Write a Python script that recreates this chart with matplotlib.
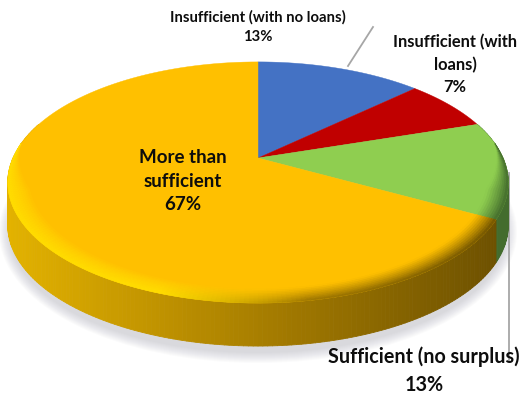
import numpy as np
import matplotlib
matplotlib.use('Agg')
import matplotlib.pyplot as plt
from matplotlib.collections import PolyCollection
from matplotlib.patches import Ellipse

# slices, clockwise from 12 o'clock
names = ['Insufficient (with no loans)', 'Insufficient (with\nloans)', 'Sufficient (no surplus)', 'More than\nsufficient']
values = [13, 7, 13, 67]
face_colors = ['#4472C4', '#C00000', '#8FCE50', '#FFC000']
pct_text = ['13%', '7%', '13%', '67%']

plt.rcParams['font.family'] = ['Lato', 'DejaVu Sans']

# pie geometry in pixels
apex_x, apex_y = 258, 158
scale_x, scale_y = 245, 115.6
tilt = 0.203
depth = 43


def project(angle, r=1.0):
    # angle clockwise from top, perspective so the apex sits above the ellipse centre
    x = r * np.sin(angle)
    y = r * np.cos(angle)
    w = 1 + tilt * y
    return apex_x + scale_x * x / w, apex_y - scale_y * y / w


def mix(c1, c2, t):
    return tuple(np.array(c1) * (1 - t) + np.array(c2) * t)


def rgb(h):
    return np.array(matplotlib.colors.to_rgb(h))


def side_color(i, px):
    t = np.clip((px - 9) / 498, 0, 1)
    if i == 2:
        return mix(rgb('#4F7F30'), rgb('#36592A'), 0.5)
    if i == 3:
        if t < 0.5:
            return mix(rgb('#E3B200'), rgb('#A87E00'), t * 2)
        return mix(rgb('#A87E00'), rgb('#6B4F00'), (t - 0.5) * 2)
    return mix(rgb(face_colors[i]), (0, 0, 0), 0.45)


fig = plt.figure(figsize=(5.21, 3.94), dpi=100)
ax = fig.add_axes([0, 0, 1, 1])
ax.set_xlim(0, 521)
ax.set_ylim(394, 0)
ax.axis('off')

# soft shadow under the disc
for grow in range(22, 0, -2):
    ax.add_patch(Ellipse((258, 232), 2 * 248 + grow, 2 * 120 + grow, fc='#8C8C9C', ec='none', alpha=0.03, zorder=1))

edges = np.cumsum([0] + values) / sum(values) * 2 * np.pi

# side wall
side_polys, side_cols = [], []
for i in range(len(values)):
    angs = np.linspace(edges[i], edges[i + 1], max(int(values[i] * 4), 4) + 1)
    for a0, a1 in zip(angs[:-1], angs[1:]):
        x0, y0 = project(a0)
        x1, y1 = project(a1)
        if np.cos(a0) > 0.3 and np.cos(a1) > 0.3:
            continue
        side_polys.append([(x0, y0), (x1, y1), (x1, y1 + depth), (x0, y0 + depth)])
        side_cols.append(side_color(i, (x0 + x1) / 2))
ax.add_collection(PolyCollection(side_polys, facecolors=side_cols, edgecolors=side_cols, linewidths=0.6, zorder=2))

# top face
for i in range(len(values)):
    angs = np.linspace(edges[i], edges[i + 1], 120)
    xs, ys = project(angs)
    ax.fill(np.r_[apex_x, xs], np.r_[apex_y, ys], color=face_colors[i], lw=0.3, zorder=3)

# bevel along the near edge
bevel_polys, bevel_cols = [], []
rings = np.linspace(0.92, 1.0, 10)
for i in range(len(values)):
    angs = np.linspace(edges[i], edges[i + 1], max(int(values[i] * 4), 4) + 1)
    for a0, a1 in zip(angs[:-1], angs[1:]):
        amid = (a0 + a1) / 2
        weight = np.clip(-np.cos(amid) * 2.5 + 0.3, 0, 1)
        if weight <= 0:
            continue
        px, _ = project(amid)
        sc = side_color(i, px)
        t_x = np.clip((px - 9) / 498, 0, 1)
        # left part of the yellow rim catches the light, right part falls into the dark
        bright = np.clip((0.6 - t_x) / 0.3, 0, 1) if i == 3 else 0
        for r0, r1 in zip(rings[:-1], rings[1:]):
            r0b = 1 - (1 - r0) * weight
            r1b = 1 - (1 - r1) * weight
            t = (r0 + r1 - 2 * rings[0]) / (2 * (1 - rings[0]))
            base = rgb(face_colors[i])
            dark = mix(base, sc, t ** 1.2)
            light = mix(base, rgb('#FFDD00'), t ** 0.7)
            col = mix(dark, light, bright)
            xa, ya = project(a0, r0b)
            xb, yb = project(a1, r0b)
            xc, yc = project(a1, r1b)
            xd, yd = project(a0, r1b)
            bevel_polys.append([(xa, ya), (xb, yb), (xc, yc), (xd, yd)])
            bevel_cols.append(col)
ax.add_collection(PolyCollection(bevel_polys, facecolors=bevel_cols, edgecolors=bevel_cols, linewidths=0.4, zorder=4))

# leader lines
ax.plot([373, 348], [27, 66], color='#A6A6A6', lw=1.3, zorder=5)
ax.plot([509, 509], [173, 360], color='#A6A6A6', lw=1.3, zorder=1.5)

# labels
txt = dict(ha='center', va='center', fontweight='bold', color='#0D0D0D', zorder=6)
ax.text(258, 27, names[0] + '\n' + pct_text[0], fontsize=10.7, linespacing=1.48, **txt)
ax.text(455, 64.5, names[1] + '\n' + pct_text[1], fontsize=11.9, linespacing=1.5, **txt)
ax.text(424, 371, names[2] + '\n' + pct_text[2], fontsize=14.2, linespacing=1.5, **txt)
ax.text(183, 181, names[3] + '\n' + pct_text[3], fontsize=13.5, linespacing=1.48, **txt)

plt.savefig('out.png', dpi=100)
